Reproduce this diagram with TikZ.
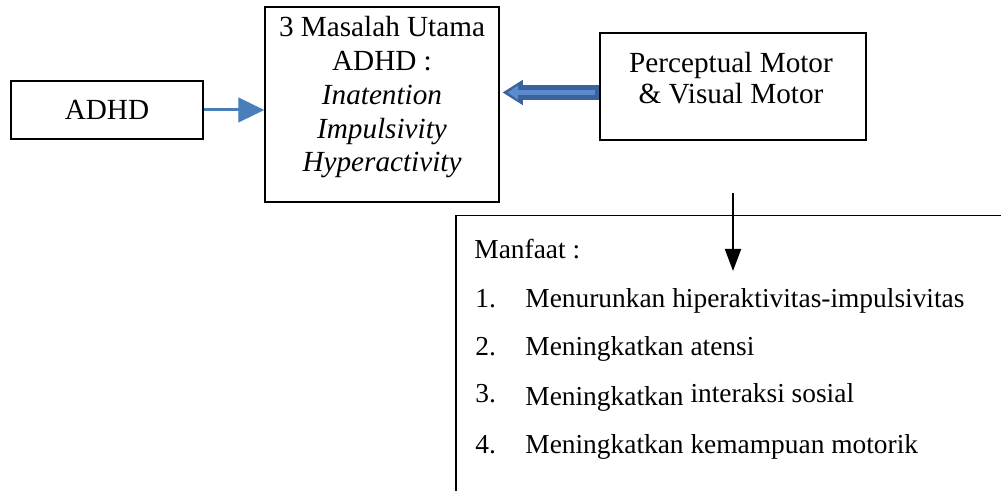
\documentclass[tikz,border=0pt]{standalone}
\usepackage{fontspec}
\setmainfont{Liberation Serif}
\usetikzlibrary{arrows.meta,positioning}
\definecolor{adhdblue}{HTML}{4A7EBB}
\definecolor{blockdark}{HTML}{3A629C}
\definecolor{blocklight}{HTML}{5B8BCC}
\tikzset{
  box/.style={draw,line width=0.75pt,inner sep=0pt},
  boxtext/.style={font=\fontsize{14.6}{16.9}\selectfont,align=center,inner sep=0pt},
  listtext/.style={font=\fontsize{13.7}{16}\selectfont,inner sep=0pt,anchor=base west},
}

\begin{document}
\begin{tikzpicture}[x=0.5pt,y=-0.5pt]
  \clip (0,0) rectangle (1001,491);
  \fill[white] (0,0) rectangle (1001,491);
  % kotak atas
  \node[box,boxtext,minimum width=96pt,minimum height=29pt] (adhd) at (107,110) {ADHD};
  \node[box,minimum width=117pt,minimum height=97.5pt] (masalah) at (382,104.5) {};
  \node[boxtext,anchor=north] (masalahtext) at (382,16)
    {3 Masalah Utama\\ADHD :\\\textit{Inatention}\\\textit{Impulsivity}\\\textit{Hyperactivity}};
  \node[box,minimum width=133pt,minimum height=53.5pt] (perc) at (733,86.5) {};
  \node[boxtext,font=\fontsize{14.6}{15.5}\selectfont,anchor=north] (perctext) at (731,52)
    {Perceptual Motor\\\& Visual Motor};
  % kotak manfaat
  \node[box,anchor=north west,minimum width=300pt,minimum height=200pt] (manfaat) at (455,215) {};
  \node[listtext] (manfaattext) at (474,259) {Manfaat :};
  \foreach \num/\ypos/\teks in {1/308/{Menurunkan hiperaktivitas-impulsivitas},
      2/356/{Meningkatkan atensi},
      3/403/{\raisebox{-1.5pt}{Meningkatkan} interaksi sosial},
      4/453/{Meningkatkan kemampuan motorik}}{
    \node[listtext] (no\num) at (475,\ypos) {\num.};
    \node[listtext] (item\num) at (525,\ypos) {\teks};
  }
  % panah
  \draw[adhdblue,line width=1.5pt,-{Triangle[length=13pt,width=12.5pt,line width=0.5pt]}]
    (adhd.east) -- (adhd.east -| masalah.west);
  \coordinate (blk) at (0,92.5);
  \draw[blockdark,line width=7.5pt,-{Triangle[length=10pt,width=12.5pt,line width=0.5pt]},shorten >=1.5pt]
    (perc.west |- blk) -- (masalah.east |- blk);
  \draw[blocklight,line width=2.5pt,-{Triangle[length=5pt,width=7pt,line width=0.5pt]},shorten >=4pt]
    ([xshift=-2pt]perc.west |- blk) -- (masalah.east |- blk);
  \coordinate (vtop) at (733,193);
  \coordinate (vtip) at (733,271);
  \draw[line width=1pt,-{Triangle[length=11pt,width=8pt]}] (vtop) -- (vtip);
\end{tikzpicture}
\end{document}
